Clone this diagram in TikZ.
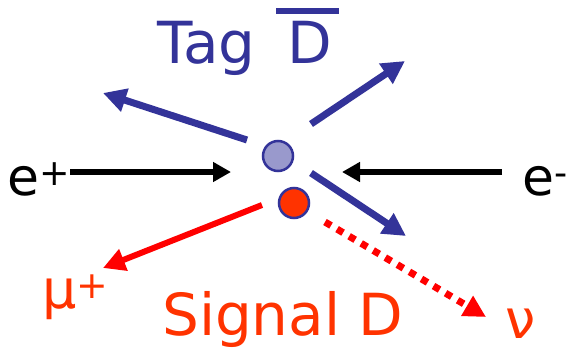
\documentclass[tikz,border=0pt]{standalone}
\usepackage{fontspec}
\setmainfont{DejaVu Sans}
\usetikzlibrary{arrows.meta}
\definecolor{ink}{RGB}{0,0,0}
\definecolor{tagblue}{RGB}{51,51,153}
\definecolor{tagfill}{RGB}{153,153,204}
\definecolor{sigred}{RGB}{255,51,0}
\definecolor{arrred}{RGB}{255,0,0}
\tikzset{
  meson/.style={
    circle, draw=tagblue, line width=2.5pt, fill=#1,
    minimum size=30pt, inner sep=0pt,
  },
  meson/.default=tagfill,
  beam/.style={-{Triangle[length=18pt,width=19pt]}, line width=5.5pt, draw=ink},
  tagarr/.style={-{Triangle[length=23pt,width=23pt]}, line width=7pt, draw=tagblue},
  sigarr/.style={-{Triangle[length=22pt,width=22pt]}, line width=6pt, draw=arrred},
  nuarr/.style={sigarr, line width=7pt, dash pattern=on 7pt off 7pt},
  biglbl/.style={anchor=base west, inner sep=0pt, font=\fontsize{58}{60}\selectfont},
  beamlbl/.style={anchor=base west, inner sep=0pt, font=\fontsize{52}{54}\selectfont},
  smalllbl/.style={anchor=base west, inner sep=0pt, text=sigred, font=\fontsize{54}{56}\selectfont},
}

\begin{document}
\begin{tikzpicture}[x=1pt,y=-1pt]
  \useasboundingbox (0,0) rectangle (573,356);

  % the two D mesons
  \node[meson=tagfill] (tagD) at (278,156) {};
  \node[meson=sigred] (sigD) at (294,203) {};

  % beams
  \node[beamlbl] (ep) at (7,195) {e\textsuperscript{+}};
  \node[beamlbl] (em) at (522,195) {e\textsuperscript{-}};
  \coordinate (epA) at (70,172);
  \coordinate (epB) at (231,172);
  \coordinate (emA) at (502,172);
  \coordinate (emB) at (342,172);
  \draw[beam] (epA) -- (epB);
  \draw[beam] (emA) -- (emB);

  % tag side
  \node[biglbl, text=tagblue] (tag) at (157,63)
    {Tag\hspace{0.55em}\rlap{\hspace{-0.2em}\rule[0.84em]{1.1em}{0.1em}}D};
  \coordinate (t1a) at (247,140);
  \coordinate (t1b) at (103,93);
  \coordinate (t2a) at (311,124);
  \coordinate (t2b) at (405,61);
  \coordinate (t3a) at (311,173);
  \coordinate (t3b) at (406,236);
  \draw[tagarr] (t1a) -- (t1b);
  \draw[tagarr] (t2a) -- (t2b);
  \draw[tagarr] (t3a) -- (t3b);

  % signal side
  \node[biglbl, text=sigred] (sig) at (162,335) {Signal D};
  \node[smalllbl] (mu) at (42,308) {μ\textsuperscript{+}};
  \node[smalllbl] (nu) at (505,338) {ν};
  \coordinate (s1a) at (262,205);
  \coordinate (s1b) at (103,268);
  \coordinate (s2a) at (325,222);
  \coordinate (s2b) at (486,317);
  \draw[sigarr] (s1a) -- (s1b);
  \draw[nuarr] (s2a) -- (s2b);
\end{tikzpicture}
\end{document}
